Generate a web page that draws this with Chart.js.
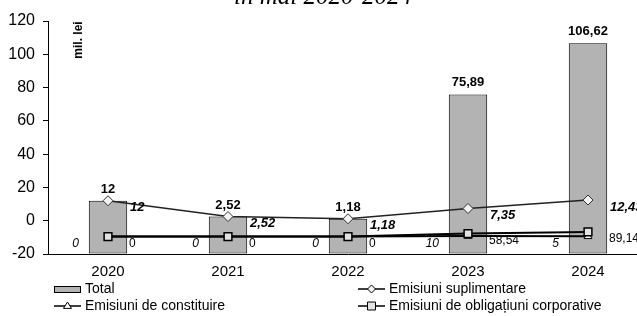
<!DOCTYPE html>
<html>
<head>
<meta charset="utf-8">
<title>Emisiuni de valori mobiliare</title>
<style>
  html, body { margin: 0; padding: 0; background: #fff; }
  body { width: 637px; height: 316px; overflow: hidden; position: relative; }
  #wrap { position: absolute; left: -9px; top: -18px; }
</style>
</head>
<body>
<div id="wrap"><canvas id="chart" width="664" height="334"></canvas></div>
<script src="https://cdn.jsdelivr.net/npm/chart.js"></script>
<script>
// data
var years = ["2020", "2021", "2022", "2023", "2024"];
var total = [12, 2.52, 1.18, 75.89, 106.62];
var suplimentare = [12, 2.52, 1.18, 7.35, 12.43];
var constituire = [0, 0, 0, 10, 5];
var obligatiuni = [0, 0, 0, 58.54, 89.14];
var yTicks = [-20, 0, 20, 40, 60, 80, 100, 120];

var SANS = '"Liberation Sans", Arial, sans-serif';

function fmt(v) {
    return String(v).replace(".", ",");
}

// small markers used in the legend
function marker(ctx, style, x, y, r) {
    ctx.beginPath();
    if (style === "rectRot") {
        ctx.moveTo(x, y - r); ctx.lineTo(x + r, y); ctx.lineTo(x, y + r); ctx.lineTo(x - r, y);
    } else if (style === "triangle") {
        ctx.moveTo(x, y - r); ctx.lineTo(x + r, y + r * 0.6); ctx.lineTo(x - r, y + r * 0.6);
    } else {
        ctx.rect(x - r, y - r, 2 * r, 2 * r);
    }
    ctx.closePath();
    ctx.fill();
    ctx.stroke();
}

var valueLabels = {
    id: "valueLabels",
    afterDatasetsDraw: function(chart) {
        var ctx = chart.ctx;
        ctx.save();
        ctx.fillStyle = "#000";
        ctx.textBaseline = "middle";
        chart.data.datasets.forEach(function(ds, di) {
            var lab = ds.valueLabel;
            var meta = chart.getDatasetMeta(di);
            ctx.font = lab.font;
            ctx.textAlign = lab.align;
            meta.data.forEach(function(el, i) {
                ctx.fillText(fmt(ds.data[i]), el.x + lab.dx, el.y + lab.dy);
            });
        });
        ctx.restore();
    }
};

var extras = {
    id: "extras",
    afterDraw: function(chart) {
        var ctx = chart.ctx;
        var left = chart.chartArea.left;
        ctx.save();
        // unit label inside the plot
        ctx.translate(left + 30.5, 58);
        ctx.rotate(-Math.PI / 2);
        ctx.font = "bold 12px " + SANS;
        ctx.fillStyle = "#000";
        ctx.textAlign = "center";
        ctx.textBaseline = "middle";
        ctx.fillText("mil. lei", 0, 0);
        ctx.restore();

        // legend, two columns
        var cols = [left + 6, left + 310];
        var rows = [307, 324];
        ctx.save();
        ctx.font = "14px " + SANS;
        ctx.textBaseline = "middle";
        ctx.textAlign = "left";
        chart.data.datasets.forEach(function(ds, i) {
            var x = cols[i % 2];
            var y = rows[Math.floor(i / 2)];
            ctx.lineWidth = 1;
            ctx.strokeStyle = "#000";
            if (ds.type === "bar") {
                ctx.fillStyle = ds.backgroundColor;
                ctx.fillRect(x, y - 3, 26, 6);
                ctx.strokeRect(x + 0.5, y - 2.5, 26, 6);
            } else {
                ctx.lineWidth = 1.5;
                ctx.beginPath();
                ctx.moveTo(x, y);
                ctx.lineTo(x + 27, y);
                ctx.stroke();
                ctx.lineWidth = 1;
                ctx.fillStyle = ds.pointBackgroundColor;
                marker(ctx, ds.pointStyle, x + 13.5, y, 4);
            }
            ctx.fillStyle = "#000";
            ctx.fillText(ds.label, x + 31, y + 0.5);
        });
        ctx.restore();
    }
};

new Chart(document.getElementById("chart"), {
    data: {
        labels: years,
        datasets: [
            {
                type: "bar",
                label: "Total",
                data: total,
                base: yTicks[0],
                backgroundColor: "#b3b3b3",
                borderColor: "#000",
                borderWidth: 1,
                borderSkipped: false,
                barPercentage: 0.32,
                categoryPercentage: 1,
                order: 4,
                valueLabel: { font: "bold 13px " + SANS, align: "center", dx: 0, dy: -11.5 }
            },
            {
                type: "line",
                label: "Emisiuni suplimentare",
                data: suplimentare,
                borderColor: "#222",
                borderWidth: 1.5,
                pointStyle: "rectRot",
                pointRadius: 5,
                pointBackgroundColor: "#f2f2f2",
                pointBorderColor: "#333",
                pointBorderWidth: 1,
                order: 1,
                valueLabel: { font: "italic bold 13px " + SANS, align: "left", dx: 22, dy: 7 }
            },
            {
                type: "line",
                label: "Emisiuni de constituire",
                data: constituire,
                yAxisID: "y2",
                borderColor: "#000",
                borderWidth: 2,
                pointStyle: "triangle",
                pointRadius: 4.5,
                pointBackgroundColor: "#fff",
                pointBorderColor: "#000",
                pointBorderWidth: 1,
                order: 2,
                valueLabel: { font: "italic 12px " + SANS, align: "right", dx: -29, dy: 7.5 }
            },
            {
                type: "line",
                label: "Emisiuni de obligațiuni corporative",
                data: obligatiuni,
                yAxisID: "y2",
                borderColor: "#000",
                borderWidth: 2,
                pointStyle: "rect",
                pointRadius: 5.5,
                pointBackgroundColor: "#e3e3e3",
                pointBorderColor: "#000",
                pointBorderWidth: 1.5,
                order: 1,
                valueLabel: { font: "12px " + SANS, align: "left", dx: 21, dy: 7 }
            }
        ]
    },
    options: {
        responsive: false,
        animation: false,
        events: [],
        layout: { padding: { top: 0, left: 0, right: 0, bottom: 40 } },
        scales: {
            x: {
                grid: { display: false, drawTicks: false },
                border: { display: true, color: "#000", width: 1 },
                ticks: { color: "#000", padding: 9, font: { family: SANS, size: 15 } },
                afterFit: function(scale) { scale.height = 22; }
            },
            y: {
                min: yTicks[0],
                max: yTicks[yTicks.length - 1],
                ticks: { stepSize: 20, color: "#000", padding: 8, font: { family: SANS, size: 16 } },
                grid: { drawOnChartArea: false, drawTicks: true, tickLength: 5, color: "#000" },
                border: { display: true, color: "#000", width: 1 },
                afterFit: function(scale) { scale.width = 57; }
            },
            y2: {
                display: false,
                min: -330,
                max: 4090
            }
        },
        plugins: {
            legend: { display: false },
            tooltip: { enabled: false },
            title: {
                display: true,
                text: "în mai 2020-2024",
                color: "#000",
                font: { family: '"Liberation Serif", "Times New Roman", serif', style: "italic", weight: "normal", size: 25 },
                padding: { top: 0, bottom: 9 }
            }
        }
    },
    plugins: [valueLabels, extras]
});
</script>
</body>
</html>
